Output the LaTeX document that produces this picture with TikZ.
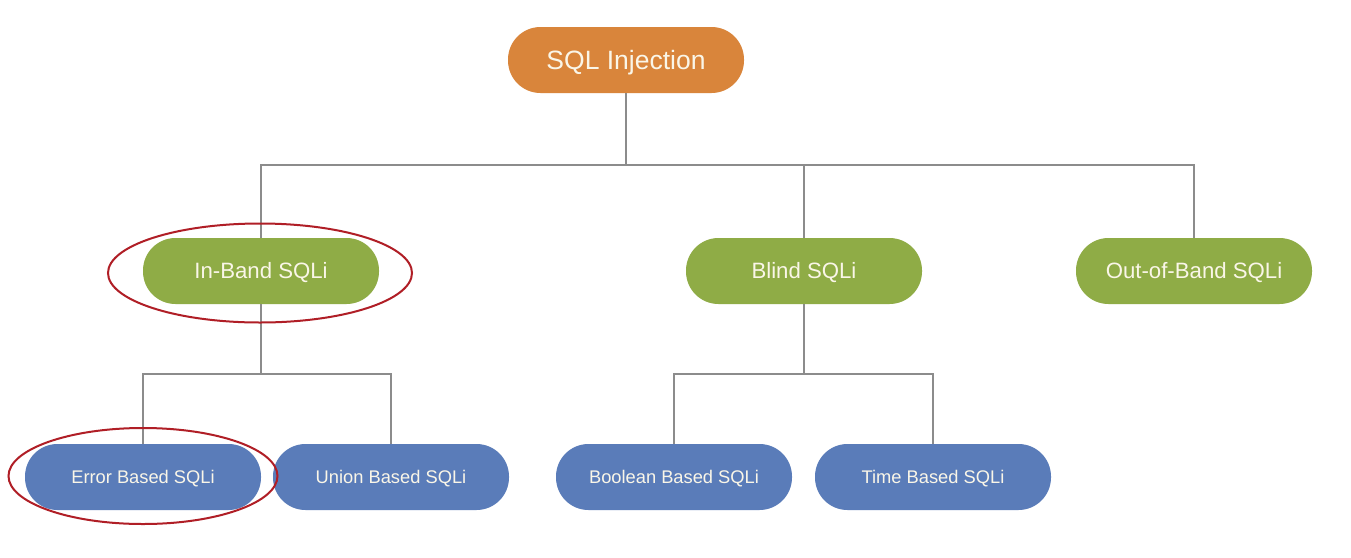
\documentclass[tikz,border=0pt]{standalone}
\usepackage{fontspec}
\setmainfont{Liberation Sans}
\usetikzlibrary{shapes.geometric}
\definecolor{orangebox}{RGB}{217,133,59}
\definecolor{greenbox}{RGB}{143,172,70}
\definecolor{bluebox}{RGB}{90,124,185}
\definecolor{linegray}{RGB}{140,140,140}
\definecolor{redmark}{RGB}{176,30,38}
\definecolor{textcream}{RGB}{250,246,232}
\tikzset{
  pill/.style={rectangle, rounded corners=32.5pt, minimum height=66pt, inner sep=0pt, text=textcream, text depth=0pt},
  toppill/.style={pill, fill=orangebox, minimum width=236pt, font=\fontsize{26.5}{30}\selectfont, text height=19pt},
  midpill/.style={pill, fill=greenbox, minimum width=236pt, font=\fontsize{22.2}{26}\selectfont, text height=15.9pt},
  lowpill/.style={pill, fill=bluebox, minimum width=236pt, font=\fontsize{18.3}{22}\selectfont, text height=13.1pt},
  conn/.style={draw=linegray, line width=1.6pt},
  redring/.style={ellipse, draw=redmark, line width=2pt, inner sep=0pt}
}
\begin{document}
\begin{tikzpicture}[x=1pt,y=-1pt]
\useasboundingbox[fill=white] (0,0) rectangle (1351,557);
\coordinate (j1) at (626,165);
\coordinate (j2) at (261,374);
\coordinate (j3) at (804,374);
\node[toppill] (sqli) at (626,60) {SQL Injection};
\node[midpill] (inband) at (261,271) {In-Band SQLi};
\node[midpill] (blind) at (804,271) {Blind SQLi};
\node[midpill] (oob) at (1194,271) {Out-of-Band SQLi};
\node[lowpill] (error) at (143,477) {Error Based SQLi};
\node[lowpill] (union) at (391,477) {Union Based SQLi};
\node[lowpill] (bool) at (674,477) {Boolean Based SQLi};
\node[lowpill] (time) at (933,477) {Time Based SQLi};
\draw[conn] (sqli.south) -- (j1);
\draw[conn] (inband.north) |- (j1);
\draw[conn] (oob.north) |- (j1);
\draw[conn] (blind.north) -- (blind.north |- j1);
\draw[conn] (inband.south) -- (j2);
\draw[conn] (error.north) |- (j2);
\draw[conn] (union.north) |- (j2);
\draw[conn] (blind.south) -- (j3);
\draw[conn] (bool.north) |- (j3);
\draw[conn] (time.north) |- (j3);
\node[redring, minimum width=304pt, minimum height=99pt] (ring1) at (260,273) {};
\node[redring, minimum width=269pt, minimum height=96pt] (ring2) at (143,476) {};
\end{tikzpicture}
\end{document}
